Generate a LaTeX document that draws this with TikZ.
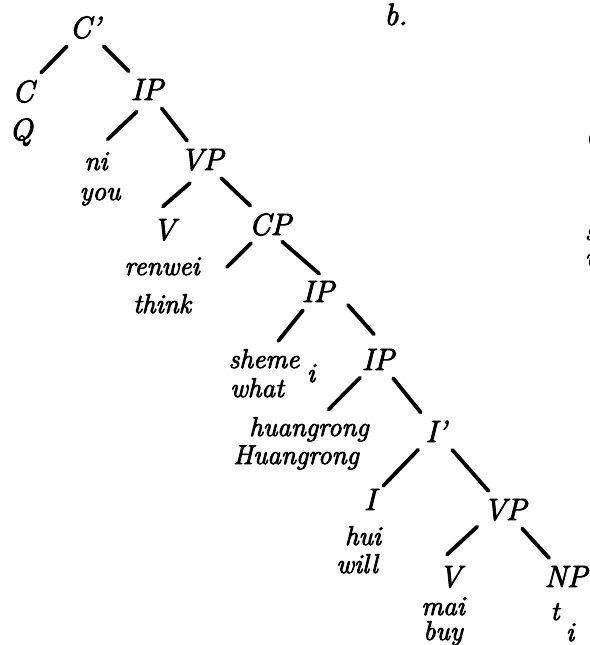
\documentclass[tikz,border=0pt]{standalone}
\usepackage{fontspec}
\usepackage{tikz}
\usetikzlibrary{positioning}
\newfontfamily\treefont[ItalicFeatures={FakeBold=3}]{Latin Modern Roman}

\begin{document}
\begin{tikzpicture}[
    x=0.5pt, y=-0.5pt,
    cat/.style={inner sep=1pt, outer sep=0pt, anchor=base, font=\treefont\fontsize{15.4}{17}\selectfont\itshape},
    word/.style={inner sep=1pt, outer sep=0pt, anchor=base, font=\treefont\fontsize{13.6}{15}\selectfont\itshape},
    branch/.style={line width=1.9pt, line cap=round, shorten <=4pt, shorten >=4pt}
]
    \useasboundingbox (0,0) rectangle (590,645);
    \clip (0,0) rectangle (590,645);

    % Example label
    \node[cat] (ex) at (396,25) {b.};

    % Matrix clause
    \node[cat] (cbar) at (85,38) {C\textquoteright};
    \node[cat] (c) at (23,102) {C};
    \node[cat] (q) at (21,140) {Q};
    \node[cat] (ip1) at (147,100) {IP};
    \node[word] (ni) at (96,170) {ni};
    \node[word] (you) at (100,200) {you};
    \node[cat] (vp1) at (202,170) {VP};
    \node[cat] (v1) at (164,240) {V};
    \node[word] (renwei) at (162,275) {renwei};
    \node[word] (think) at (162,313) {think};

    \draw[branch] (cbar) -- (c);
    \draw[branch] (cbar) -- (ip1);
    \draw[branch, shorten <=7pt, shorten >=8pt] (ip1.south) -- (ni.north);
    \draw[branch] (ip1) -- (vp1);
    \draw[branch, shorten <=8pt, shorten >=8pt] (vp1.south) -- (v1.north west);

    % Embedded clause
    \node[cat] (cp) at (270,235) {CP};
    \coordinate (spec) at (227,267);
    \node[cat] (ip2) at (318,302) {IP};
    \node[word] (sheme) at (264,368) {sheme};
    \node[word] (what) at (257,397) {what};
    \node[word] (idx1) at (311,382) {i};
    \node[cat] (ip3) at (378,370) {IP};
    \node[word] (huangrong) at (309,436) {huangrong};
    \node[word] (hgloss) at (296,464) {Huangrong};
    \node[cat] (ibar) at (436,442) {I\textquoteright};
    \node[cat] (infl) at (370,510) {I};
    \node[word] (hui) at (363,545) {hui};
    \node[word] (will) at (357,573) {will};
    \node[cat] (vp2) at (505,520) {VP};
    \node[cat] (v2) at (450,587) {V};
    \node[word] (mai) at (443,615) {mai};
    \node[word] (buy) at (443,640) {buy};
    \node[cat] (np) at (566,587) {NP};
    \node[word] (trace) at (555,620) {t};
    \node[word] (idx2) at (570,641) {i};

    \draw[branch] (vp1) -- (cp);
    \draw[branch, shorten >=0pt] (cp) -- (spec);
    \draw[branch, shorten <=3pt, shorten >=4pt] (cp.-60) -- (ip2.60);
    \draw[branch] (ip2) -- (sheme);
    \draw[branch, shorten <=9pt, shorten >=8.5pt] (ip2.east) -- (ip3.60);
    \draw[branch] (ip3) -- (huangrong);
    \draw[branch] (ip3) -- (ibar);
    \draw[branch] (ibar) -- (infl);
    \draw[branch] (ibar) -- (vp2);
    \draw[branch, shorten <=3pt, shorten >=7pt] (vp2.south west) -- (v2.north west);
    \draw[branch] (vp2) -- (np);

    % Next tree, cut off at the right edge
    \node[cat, anchor=base west, inner sep=0pt] (nextc) at (586,112) {C};
    \node[cat, anchor=base west, inner sep=0pt] (nextq) at (585,147) {Q};
    \node[word, anchor=base west, inner sep=0pt] (nexts) at (585,240) {sheme};
    \node[word, anchor=base west, inner sep=0pt] (nextw) at (585,266) {what};
\end{tikzpicture}
\end{document}
